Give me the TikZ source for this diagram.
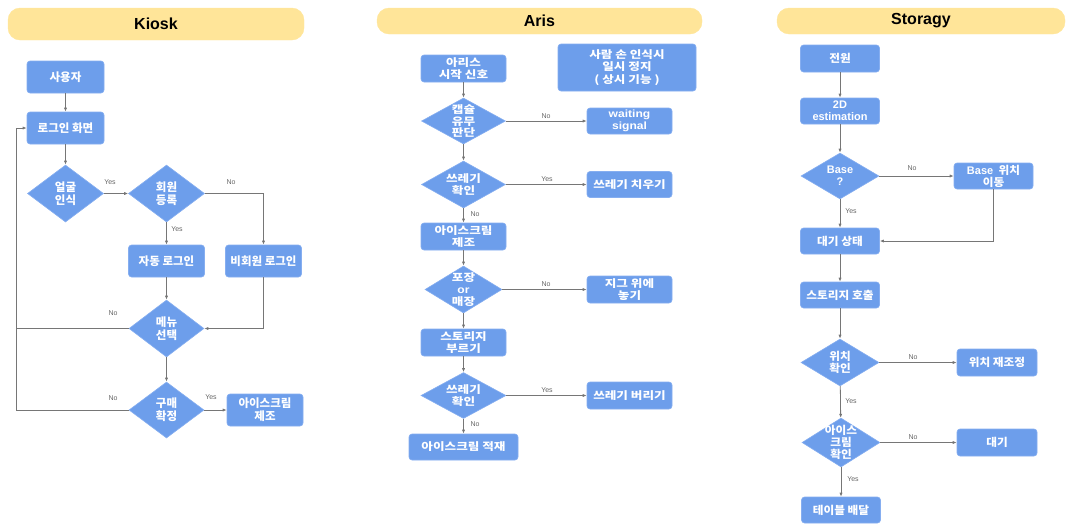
\documentclass[tikz,border=0pt]{standalone}
\usepackage{fontspec}
\setmainfont{Liberation Sans}
\newfontfamily\cjk{Noto Sans CJK KR}
\newfontfamily\cjkA{Noto Sans CJK KR}[FakeStretch=1.2]
\newfontfamily\cjkS{Noto Sans CJK KR}[FakeStretch=1.06]
\newfontfamily\laA{Liberation Sans}[FakeStretch=1.15]
\usetikzlibrary{shapes.geometric,arrows.meta}
\definecolor{boxblue}{HTML}{6D9EEB}
\definecolor{boxedge}{HTML}{86AEF0}
\definecolor{bannerc}{HTML}{FFE599}
\definecolor{linec}{HTML}{767676}
\definecolor{lblc}{HTML}{666666}
\let\lafont\rmfamily
\newcommand\la[1]{{\lafont #1}}
\tikzset{
 box/.style={rectangle, rounded corners=3pt, fill=boxblue, draw=boxedge, line width=0.6pt, text=white, align=center, inner sep=1pt, font=\cjk\bfseries\fontsize{11.5}{13}\selectfont},
 dia/.style={diamond, fill=boxblue, draw=boxedge, line width=0.6pt, inner sep=0pt},
 dtxt/.style={text=white, align=center, inner sep=0pt, font=\cjk\bfseries\fontsize{11.5}{13}\selectfont},
 ban/.style={rectangle, rounded corners=12pt, fill=bannerc, draw=bannerc, text=black, font=\rmfamily\bfseries\fontsize{16}{18}\selectfont},
 arr/.style={draw=linec, line width=0.8pt, -{Latex[length=4pt,width=3.2pt]}},
 ln/.style={draw=linec, line width=0.8pt},
 lbl/.style={text=lblc, font=\rmfamily\fontsize{7}{8}\selectfont, inner sep=1pt},
}
\begin{document}
\begin{tikzpicture}[x=1pt,y=-1pt]
\useasboundingbox (0,0) rectangle (1074,528);
% ---------------- Kiosk ----------------
\begin{scope}[box/.append style={font=\cjk\bfseries\fontsize{11.5}{13.3}\selectfont},
              dtxt/.append style={font=\cjk\bfseries\fontsize{11.5}{13.3}\selectfont}]
\node[ban, minimum width=296, minimum height=32] (tk) at (156,24) {Kiosk};
\node[box, minimum width=77, minimum height=32] (k1) at (65.5,77) {사용자};
\node[box, minimum width=77, minimum height=32] (k2) at (65.5,128) {로그인 화면};
\node[dia, minimum width=76, minimum height=57, label={[dtxt]center:얼굴\\인식}] (k3) at (65.5,193.5) {};
\node[dia, minimum width=76, minimum height=57, label={[dtxt]center:회원\\등록}] (k4) at (166.5,193.5) {};
\node[box, minimum width=76, minimum height=32] (k5) at (166.5,261) {자동 로그인};
\node[box, minimum width=76, minimum height=32] (k6) at (263.5,261) {비회원 로그인};
\node[dia, minimum width=75, minimum height=57, label={[dtxt]center:메뉴\\선택}] (k7) at (166.5,328.5) {};
\node[dia, minimum width=75, minimum height=56, label={[dtxt]center:구매\\확정}] (k8) at (166.5,410) {};
\node[box, minimum width=76, minimum height=32] (k9) at (265,410) {아이스크림\\제조};
\end{scope}
\coordinate (kc1) at (16,328.5);
\coordinate (kc2) at (16,128);
\coordinate (kc3) at (16,410);
\draw[arr] (k1) -- (k2);
\draw[arr] (k2) -- (k3);
\draw[arr] (k3) -- (k4);
\draw[arr] (k4.east) -| (k6.north);
\draw[arr] (k4) -- (k5);
\draw[arr] (k5) -- (k7);
\draw[arr] (k6.south) |- (k7.east);
\draw[arr] (k7.west) -- (kc1) -- (kc2) -- (k2.west);
\draw[arr] (k7) -- (k8);
\draw[ln] (k8.west) -- (kc3) -- (kc1);
\draw[arr] (k8) -- (k9);
\node[lbl] (kl1) at (110,182) {Yes};
\node[lbl] (kl2) at (231,182) {No};
\node[lbl] (kl3) at (177,229) {Yes};
\node[lbl] (kl4) at (113,313) {No};
\node[lbl] (kl5) at (113,398) {No};
\node[lbl] (kl6) at (211,397) {Yes};
% ---------------- Aris ----------------
\begin{scope}[box/.append style={font=\cjkA\bfseries\fontsize{10.5}{12.3}\selectfont},
              dtxt/.append style={font=\cjkA\bfseries\fontsize{10.5}{11.7}\selectfont}]
\let\lafont\laA
\node[ban, minimum width=325, minimum height=26] (ta) at (539.5,21) {Aris};
\node[box, minimum width=85, minimum height=27] (a1) at (463.5,68.5) {아리스\\시작 신호};
\node[box, minimum width=138, minimum height=47] (a0) at (627,67.5) {사람 손 인식시\\일시 정지\\( 상시 기능 )};
\node[dia, minimum width=84, minimum height=46, label={[dtxt]center:캡슐\\유무\\판단}] (a2) at (463.5,121) {};
\node[box, minimum width=85, minimum height=26] (a3) at (629.5,121) {\la{waiting}\\\la{signal}};
\node[dia, minimum width=84, minimum height=47, label={[dtxt]center:쓰레기\\확인}] (a4) at (463.5,184.5) {};
\node[box, minimum width=85, minimum height=26] (a5) at (629.5,184.5) {쓰레기 치우기};
\node[box, minimum width=85, minimum height=27] (a6) at (463.5,236.5) {아이스크림\\제조};
\node[dia, minimum width=77, minimum height=47, label={[dtxt]center:포장\\\la{or}\\매장}] (a7) at (463.5,289.5) {};
\node[box, minimum width=85, minimum height=27] (a8) at (629.5,289.5) {지그 위에\\놓기};
\node[box, minimum width=85, minimum height=27] (a9) at (463.5,342.5) {스토리지\\부르기};
\node[dia, minimum width=85, minimum height=46, label={[dtxt]center:쓰레기\\확인}] (a10) at (463.5,395.5) {};
\node[box, minimum width=85, minimum height=27] (a11) at (629.5,395.5) {쓰레기 버리기};
\node[box, minimum width=109, minimum height=26] (a12) at (463.5,447) {아이스크림 적재};
\end{scope}
\draw[arr] (a1) -- (a2);
\draw[arr] (a2) -- (a3);
\draw[arr] (a2) -- (a4);
\draw[arr] (a4) -- (a5);
\draw[arr] (a4) -- (a6);
\draw[arr] (a6) -- (a7);
\draw[arr] (a7) -- (a8);
\draw[arr] (a7) -- (a9);
\draw[arr] (a9) -- (a10);
\draw[arr] (a10) -- (a11);
\draw[arr] (a10) -- (a12);
\node[lbl] (al1) at (546,116) {No};
\node[lbl] (al2) at (547,179) {Yes};
\node[lbl] (al3) at (475,214) {No};
\node[lbl] (al4) at (546,284) {No};
\node[lbl] (al5) at (547,390) {Yes};
\node[lbl] (al6) at (475,424) {No};
% ---------------- Storagy ----------------
\begin{scope}[box/.append style={font=\cjkS\bfseries\fontsize{11}{11.8}\selectfont},
              dtxt/.append style={font=\cjkS\bfseries\fontsize{11}{11.8}\selectfont}]
\node[ban, minimum width=288, minimum height=26] (ts) at (921,21) {Storagy};
\node[box, minimum width=79, minimum height=27] (s1) at (840,58.5) {전원};
\node[box, minimum width=79, minimum height=26] (s2) at (840,111) {\la{2D}\\\la{estimation}};
\node[dia, minimum width=78, minimum height=46, label={[dtxt]center:\la{Base}\\\la{?}}] (s3) at (840,176) {};
\node[box, minimum width=79, minimum height=26] (s4) at (993.5,176) {\la{Base}\ \ 위치\\이동};
\node[box, minimum width=79, minimum height=26] (s5) at (840,241) {대기 상태};
\node[box, minimum width=79, minimum height=26] (s6) at (840,295) {스토리지 호출};
\node[dia, minimum width=78, minimum height=47, label={[dtxt]center:위치\\확인}] (s7) at (840,362.5) {};
\node[box, minimum width=80, minimum height=27] (s8) at (997,362.5) {위치 재조정};
\node[dia, minimum width=78, minimum height=49, label={[dtxt]center:아이스\\크림\\확인}] (s9) at (841,442.5) {};
\node[box, minimum width=80, minimum height=27] (s10) at (997,442.5) {대기};
\node[box, minimum width=79, minimum height=26] (s11) at (841,510) {테이블 배달};
\end{scope}
\draw[arr] (s1) -- (s2);
\draw[arr] (s2) -- (s3);
\draw[arr] (s3) -- (s4);
\draw[arr] (s3) -- (s5);
\draw[arr] (s4.south) |- (s5.east);
\draw[arr] (s5) -- (s6);
\draw[arr] (s6) -- (s7);
\draw[arr] (s7) -- (s8);
\draw[arr] (s7) -- (s9);
\draw[arr] (s9) -- (s10);
\draw[arr] (s9) -- (s11);
\node[lbl] (sl1) at (912,168) {No};
\node[lbl] (sl2) at (851,211) {Yes};
\node[lbl] (sl3) at (913,357) {No};
\node[lbl] (sl4) at (851,401) {Yes};
\node[lbl] (sl5) at (913,437) {No};
\node[lbl] (sl6) at (853,479) {Yes};
\end{tikzpicture}
\end{document}
